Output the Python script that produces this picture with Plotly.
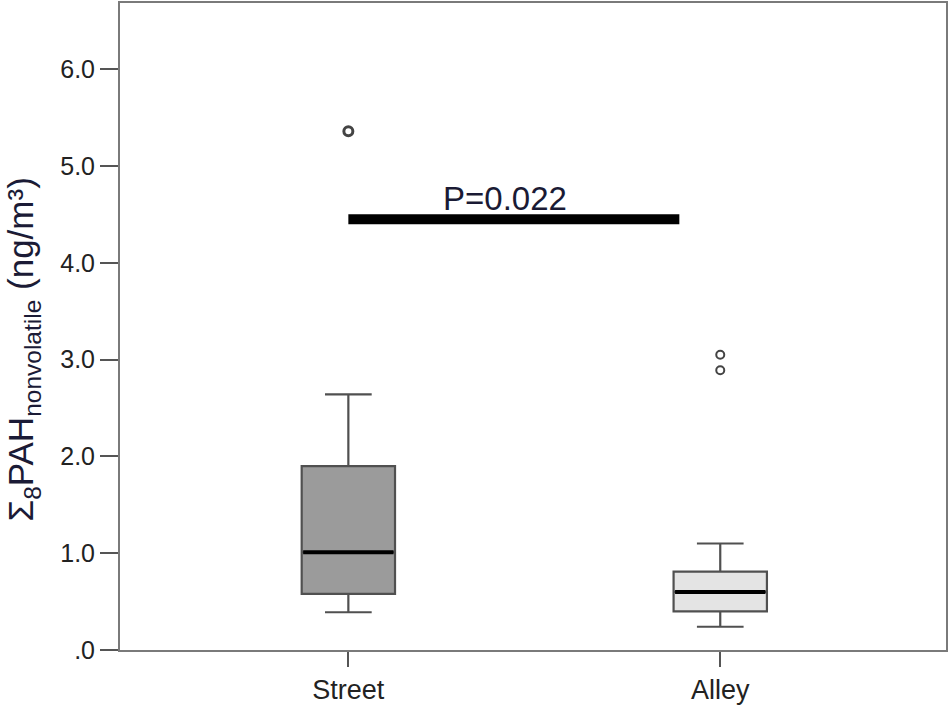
import plotly.graph_objects as go

# ---- data ----
groups = ["Street", "Alley"]
group_pos = [0, 1]
lower_whisker = [0.39, 0.24]
q1_vals = [0.58, 0.40]
median_vals = [1.01, 0.60]
q3_vals = [1.90, 0.81]
upper_whisker = [2.64, 1.10]
outliers = {"Street": [5.36], "Alley": [3.05, 2.89]}
box_fills = ["#9b9b9b", "#e4e4e4"]

y_tickvals = [0, 1, 2, 3, 4, 5, 6]
y_ticktext = [".0", "1.0", "2.0", "3.0", "4.0", "5.0", "6.0"]

sig_x = [0.0, 0.89]
sig_y = 4.45
sig_label = "P=0.022"
y_title = "Σ<sub>8</sub>PAH<sub>nonvolatile</sub> (ng/m³)"

FONT = "Liberation Sans, Arial, sans-serif"
BOX_W = 0.251
LINE = "#505050"

fig = go.Figure()

for i, g in enumerate(groups):
    fig.add_trace(go.Box(
        x=[group_pos[i]], q1=[q1_vals[i]], median=[median_vals[i]], q3=[q3_vals[i]],
        lowerfence=[lower_whisker[i]], upperfence=[upper_whisker[i]],
        width=BOX_W, whiskerwidth=0.5, fillcolor=box_fills[i],
        line=dict(color=LINE, width=2.2), boxpoints=False, showlegend=False,
        hoverinfo="skip",
    ))
    # thick black median line
    fig.add_trace(go.Scatter(
        x=[group_pos[i] - BOX_W / 2 + 0.004, group_pos[i] + BOX_W / 2 - 0.004],
        y=[median_vals[i], median_vals[i]], mode="lines",
        line=dict(color="black", width=4), showlegend=False, hoverinfo="skip",
    ))
    # outliers
    fig.add_trace(go.Scatter(
        x=[group_pos[i]] * len(outliers[g]), y=outliers[g], mode="markers",
        marker=dict(symbol="circle-open", size=9 if i == 0 else 8,
                    color="#444444", line=dict(width=3 if i == 0 else 2, color="#444444")),
        showlegend=False, hoverinfo="skip",
    ))

# significance bar
fig.add_trace(go.Scatter(
    x=sig_x, y=[sig_y, sig_y], mode="lines",
    line=dict(color="black", width=10), showlegend=False, hoverinfo="skip",
))
fig.add_annotation(
    x=(sig_x[0] + sig_x[1]) / 2 - 0.023, y=sig_y + 0.0, xref="x", yref="y",
    text=sig_label, showarrow=False, yanchor="bottom",
    font=dict(family=FONT, size=33, color="#1a1a34"),
)

# y-axis title as rotated annotation
fig.add_annotation(
    x=-0.117, y=0.465, xref="paper", yref="paper",
    text=y_title, showarrow=False, textangle=-90,
    xanchor="center", yanchor="middle",
    font=dict(family=FONT, size=35, color="#1b1b36"),
)

fig.update_layout(
    width=949, height=707,
    margin=dict(l=120, r=1, t=3, b=57),
    paper_bgcolor="white", plot_bgcolor="white",
    font=dict(family=FONT),
)
fig.update_xaxes(
    range=[-0.614, 1.607], tickvals=group_pos, ticktext=groups,
    showgrid=False, zeroline=False, showline=True, mirror=True,
    linecolor="#7a7a7a", linewidth=2,
    ticks="outside", ticklen=15, tickwidth=2, tickcolor="#555555",
    tickfont=dict(family=FONT, size=27, color="#222222"),
)
fig.update_yaxes(
    range=[0, 6.684], tickvals=y_tickvals, ticktext=y_ticktext,
    showgrid=False, zeroline=False, showline=True, mirror=True,
    linecolor="#7a7a7a", linewidth=2,
    ticks="outside", ticklen=18, tickwidth=2, tickcolor="#555555",
    tickfont=dict(family=FONT, size=25, color="#222222"),
)

fig.write_html("out.html")
